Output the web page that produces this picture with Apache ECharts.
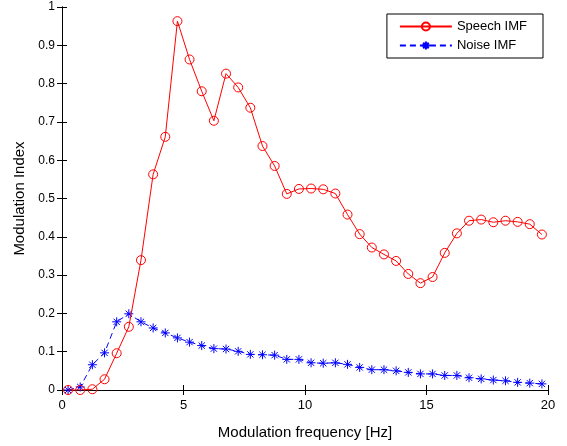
<!DOCTYPE html>
<html>
<head>
<meta charset="utf-8">
<script src="https://cdn.jsdelivr.net/npm/echarts@6/dist/echarts.min.js"></script>
<style>
  html, body { margin: 0; padding: 0; background: #fff; }
  #chart { width: 567px; height: 446px; }
</style>
</head>
<body>
<div id="chart"></div>
<script>
// modulation frequency (Hz), one point every 0.5 Hz
const freq = [
  0.25, 0.75, 1.25, 1.75, 2.25, 2.75, 3.25, 3.75, 4.25, 4.75,
  5.25, 5.75, 6.25, 6.75, 7.25, 7.75, 8.25, 8.75, 9.25, 9.75,
  10.25, 10.75, 11.25, 11.75, 12.25, 12.75, 13.25, 13.75, 14.25, 14.75,
  15.25, 15.75, 16.25, 16.75, 17.25, 17.75, 18.25, 18.75, 19.25, 19.75
]
const speechIMF = [
  0, 0, 0.002, 0.028, 0.096, 0.165, 0.339, 0.563, 0.661, 0.963,
  0.863, 0.78, 0.703, 0.826, 0.79, 0.737, 0.637, 0.585, 0.512, 0.525,
  0.526, 0.524, 0.513, 0.458, 0.407, 0.372, 0.354, 0.337, 0.303, 0.279,
  0.295, 0.358, 0.409, 0.442, 0.445, 0.438, 0.442, 0.439, 0.433, 0.406
]
const noiseIMF = [
  0, 0.008, 0.066, 0.097, 0.178, 0.199, 0.178, 0.162, 0.149, 0.136,
  0.125, 0.116, 0.108, 0.107, 0.101, 0.093, 0.092, 0.091, 0.08, 0.08,
  0.071, 0.07, 0.071, 0.067, 0.059, 0.053, 0.053, 0.05, 0.046, 0.042,
  0.042, 0.038, 0.038, 0.032, 0.029, 0.026, 0.024, 0.02, 0.018, 0.016
]
const xTicks = [0, 5, 10, 15, 20]

const fontFamily = 'Liberation Sans, Arial, sans-serif'
const asterisk = 'path://M0 5L10 5M5 0L5 10M1.5 1.5L8.5 8.5M8.5 1.5L1.5 8.5'

const pairs = ys => freq.map((f, i) => [f, ys[i]])

const axisCommon = {
  axisLine: { show: true, lineStyle: { color: '#000', width: 1 } },
  axisTick: { show: true, inside: true, length: 5, lineStyle: { color: '#000' } },
  splitLine: { show: false }
}

let chart = echarts.init(document.getElementById('chart'), null, { renderer: 'canvas' })
let option = {
  animation: false,
  backgroundColor: '#fff',
  textStyle: { fontFamily },
  grid: { left: 62, right: 19, top: 7, bottom: 56 },
  legend: {
    orient: 'vertical',
    right: 24,
    top: 14,
    itemWidth: 52,
    itemHeight: 10,
    itemGap: 6,
    padding: [6, 16, 6, 12],
    backgroundColor: '#fff',
    borderColor: '#000',
    borderWidth: 1,
    borderRadius: 0,
    textStyle: { fontSize: 13, color: '#000', fontFamily },
    data: ['Speech IMF', 'Noise IMF']
  },
  xAxis: [
    {
      type: 'value',
      min: xTicks[0],
      max: xTicks[xTicks.length - 1],
      interval: 5,
      name: 'Modulation frequency [Hz]',
      nameLocation: 'middle',
      nameGap: 35,
      nameTextStyle: { fontSize: 15, color: '#000', fontFamily },
      axisLabel: { color: '#000', fontSize: 13, margin: 9, fontFamily },
      ...axisCommon
    },
    {
      type: 'value',
      position: 'top',
      min: 0,
      max: 20,
      interval: 5,
      axisLabel: { show: false },
      ...axisCommon
    }
  ],
  yAxis: [
    {
      type: 'value',
      min: 0,
      max: 1,
      interval: 0.1,
      name: 'Modulation Index',
      nameLocation: 'middle',
      nameGap: 31,
      nameTextStyle: { fontSize: 15, color: '#000', fontFamily },
      axisLabel: { color: '#000', fontSize: 12, margin: 7, fontFamily },
      ...axisCommon
    },
    {
      type: 'value',
      position: 'right',
      min: 0,
      max: 1,
      interval: 0.1,
      axisLabel: { show: false },
      ...axisCommon
    }
  ],
  series: [
    {
      name: 'Speech IMF',
      type: 'line',
      data: pairs(speechIMF),
      symbol: 'circle',
      symbolSize: 9,
      lineStyle: { color: '#ff0000', width: 1 },
      itemStyle: { color: 'rgba(255,255,255,0)', borderColor: '#ff0000', borderWidth: 1 },
      z: 3
    },
    {
      name: 'Noise IMF',
      type: 'line',
      data: pairs(noiseIMF),
      symbol: asterisk,
      symbolSize: 9,
      lineStyle: { color: '#0000ff', width: 1, type: [6, 4] },
      itemStyle: { color: 'none', borderColor: '#0000ff', borderWidth: 1 },
      z: 2
    }
  ]
}
chart.setOption(option)
</script>
</body>
</html>
